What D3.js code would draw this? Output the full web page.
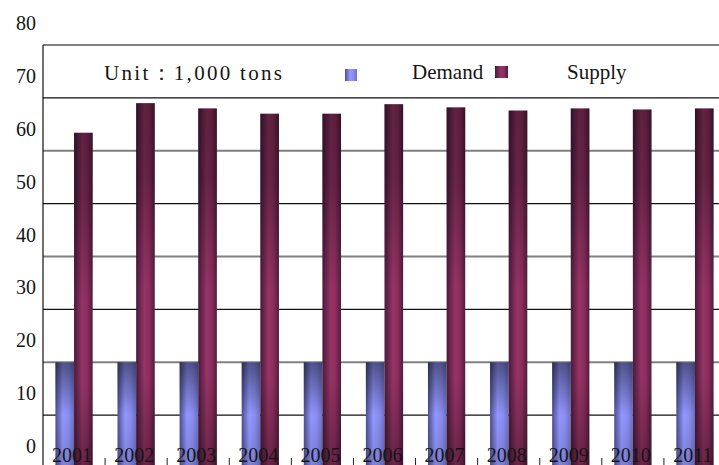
<!DOCTYPE html>
<html>
<head>
<meta charset="utf-8">
<script src="https://cdn.jsdelivr.net/npm/d3@7"></script>
<style>
  body { margin: 0; background: #fff; }
  svg { display: block; }
  text { font-family: "Liberation Serif", "DejaVu Serif", serif; fill: #151515; }
</style>
</head>
<body>
<div id="chart"></div>
<script>
// values
const years = ["2001", "2002", "2003", "2004", "2005", "2006", "2007", "2008", "2009", "2010", "2011"];
const demand = [20, 20, 20, 20, 20, 20, 20, 20, 20, 20, 20];
const supply = [63.4, 69.0, 68.0, 67.0, 67.0, 68.8, 68.2, 67.6, 68.0, 67.8, 68.0];
const yTicks = [0, 10, 20, 30, 40, 50, 60, 70, 80];
const seriesNames = ["Demand", "Supply"];

const width = 719, height = 465;
const svg = d3.select("#chart").append("svg")
    .attr("width", width)
    .attr("height", height);

const defs = svg.append("defs");

function hGrad(id, stops) {
    const g = defs.append("linearGradient").attr("id", id)
        .attr("x1", "0%").attr("x2", "100%").attr("y1", "0%").attr("y2", "0%");
    stops.forEach(s => g.append("stop").attr("offset", s[0]).attr("stop-color", s[1]));
}
function vShade(id, stops) {
    const g = defs.append("linearGradient").attr("id", id)
        .attr("x1", "0%").attr("x2", "0%").attr("y1", "0%").attr("y2", "100%");
    stops.forEach(s => g.append("stop").attr("offset", s[0])
        .attr("stop-color", "#000").attr("stop-opacity", s[1]));
}

hGrad("demandFill", [["0%", "#4c4f8e"], ["40%", "#9397ff"], ["70%", "#8a8ef0"], ["100%", "#6d70c4"]]);
hGrad("supplyFill", [["0%", "#4a1a38"], ["15%", "#62234a"], ["45%", "#963465"], ["70%", "#8c2e5e"], ["100%", "#521d3c"]]);
vShade("demandShade", [["0%", 0.45], ["50%", 0], ["100%", 0.15]]);
vShade("supplyShade", [["0%", 0.35], ["20%", 0.3], ["50%", 0], ["75%", 0], ["100%", 0.3]]);

const y = d3.scaleLinear().domain([0, 80]).range([468, 45]);
const x0 = d3.scaleBand().domain(years).range([43, 726]).paddingInner(0.4).paddingOuter(0.2);
const x1 = d3.scaleBand().domain(seriesNames).range([0, x0.bandwidth()]);

// gridlines, alternating grey / black
svg.append("g").selectAll("line")
    .data(yTicks)
    .enter().append("line")
    .attr("x1", 43)
    .attr("x2", width)
    .attr("y1", d => y(d))
    .attr("y2", d => y(d))
    .attr("stroke", (d, i) => i % 2 === 0 ? "#808080" : "#111")
    .attr("stroke-width", (d, i) => i % 2 === 0 ? 2 : 1.2);

// y labels (sit above their gridlines)
svg.append("g").selectAll("text")
    .data(yTicks)
    .enter().append("text")
    .attr("x", 36)
    .attr("y", d => y(d) - 15)
    .attr("text-anchor", "end")
    .style("font-size", "20px")
    .text(d => d);

// bars
const rows = years.map((yr, i) => ({ year: yr, values: [demand[i], supply[i]] }));
const groups = svg.append("g").selectAll("g")
    .data(rows)
    .enter().append("g")
    .attr("transform", d => `translate(${x0(d.year)},0)`);

const cells = groups.selectAll("g")
    .data(d => d.values.map((v, j) => ({ key: seriesNames[j], value: v })))
    .enter().append("g");

cells.append("rect")
    .attr("x", d => x1(d.key))
    .attr("y", d => y(d.value))
    .attr("width", x1.bandwidth())
    .attr("height", d => y(0) - y(d.value))
    .attr("fill", d => d.key === "Demand" ? "url(#demandFill)" : "url(#supplyFill)");

cells.append("rect")
    .attr("x", d => x1(d.key))
    .attr("y", d => y(d.value))
    .attr("width", x1.bandwidth())
    .attr("height", d => y(0) - y(d.value))
    .attr("fill", d => d.key === "Demand" ? "url(#demandShade)" : "url(#supplyShade)");

// left axis line
svg.append("line")
    .attr("x1", 43).attr("x2", 43)
    .attr("y1", y(80)).attr("y2", height)
    .attr("stroke", "#111")
    .attr("stroke-width", 1.2);

// category ticks at the bottom
const step = x0.step();
svg.append("g").selectAll("line")
    .data(years.slice(0, -1))
    .enter().append("line")
    .attr("x1", d => x0(d) + x0.bandwidth() + (step - x0.bandwidth()) / 2)
    .attr("x2", d => x0(d) + x0.bandwidth() + (step - x0.bandwidth()) / 2)
    .attr("y1", 458)
    .attr("y2", height)
    .attr("stroke", "#222")
    .attr("stroke-width", 1);

// year labels
svg.append("g").selectAll("text")
    .data(years)
    .enter().append("text")
    .attr("x", d => x0(d) + x0.bandwidth() / 2 - 2)
    .attr("y", 462)
    .attr("text-anchor", "middle")
    .style("font-size", "20px")
    .text(d => d);

// legend band
svg.append("text")
    .attr("x", 104)
    .attr("y", 80)
    .attr("textLength", 178)
    .attr("lengthAdjust", "spacing")
    .style("font-size", "21px")
    .text("Unit：1,000 tons");

svg.append("rect")
    .attr("x", 345).attr("y", 69).attr("width", 12).attr("height", 12)
    .attr("fill", "url(#demandFill)");
svg.append("rect")
    .attr("x", 495).attr("y", 66).attr("width", 13).attr("height", 12)
    .attr("fill", "url(#supplyFill)");

svg.append("text")
    .attr("x", 412).attr("y", 79)
    .style("font-size", "21px")
    .text("Demand");
svg.append("text")
    .attr("x", 567).attr("y", 79)
    .style("font-size", "21px")
    .text("Supply");
</script>
</body>
</html>
